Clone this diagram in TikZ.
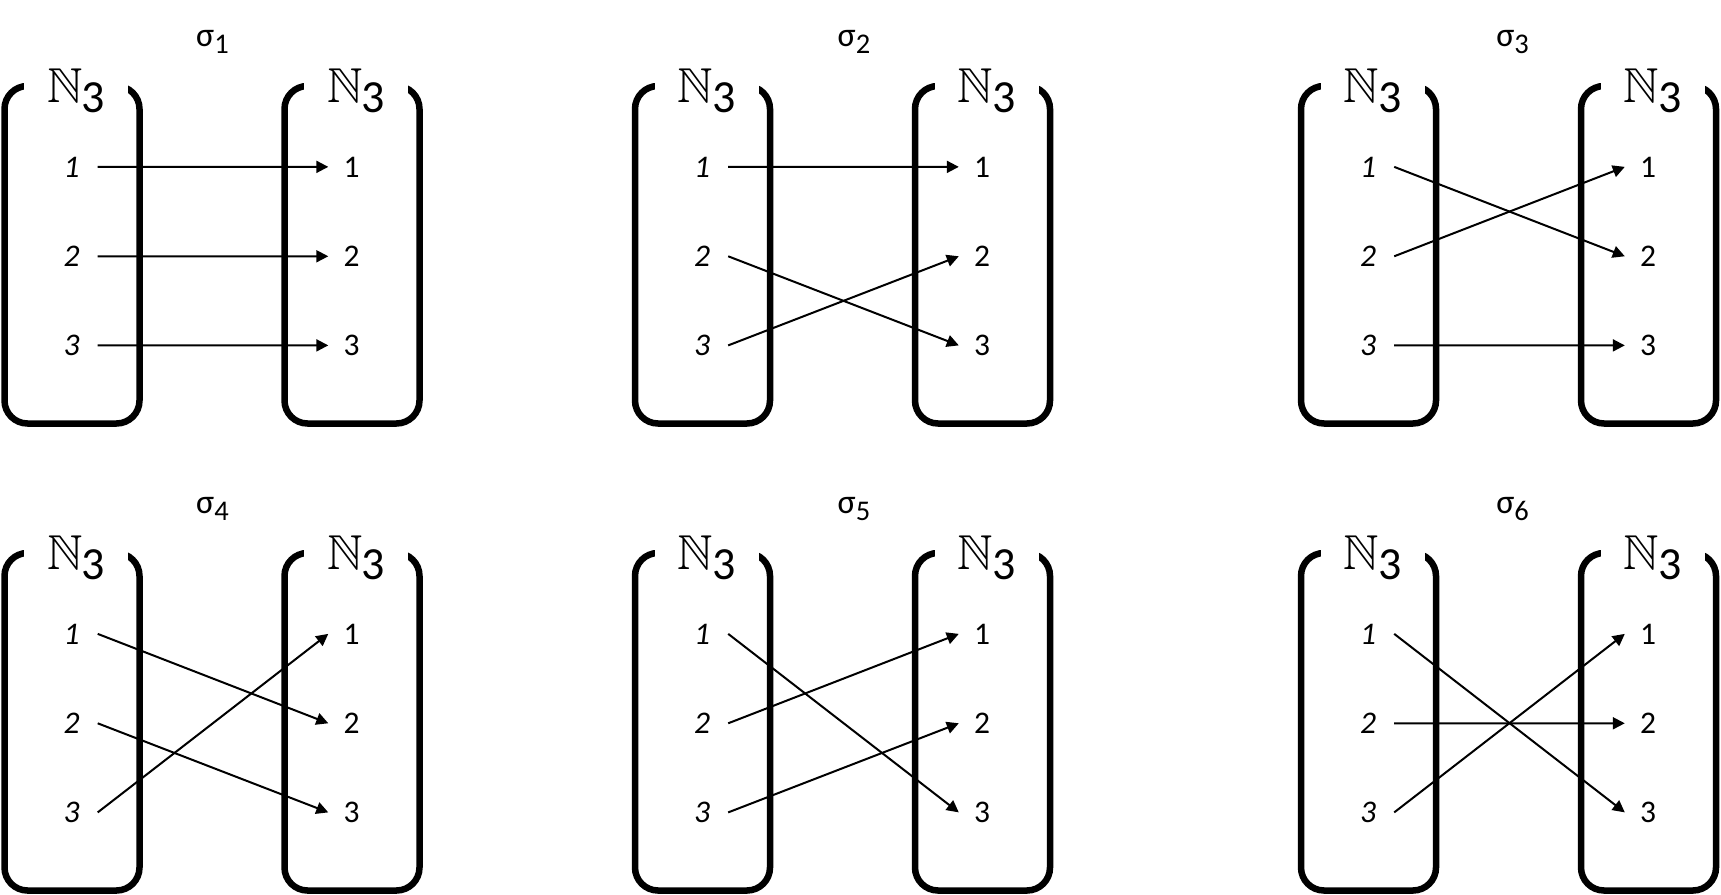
\documentclass[tikz,border=0pt]{standalone}
\usepackage{fontspec}
\setmainfont{Carlito}
\usepackage{amssymb}
\usetikzlibrary{arrows.meta}
\tikzset{
  boxline/.style={line width=6.5pt, rounded corners=23pt},
  setlabel/.style={fill=white, inner sep=0pt, minimum width=104pt, anchor=base},
  lnum/.style={anchor=base, inner sep=0pt, minimum width=52pt, font=\fontsize{31.5}{31.5}\selectfont\itshape},
  rnum/.style={anchor=base, inner sep=0pt, minimum width=46pt, font=\fontsize{31.5}{31.5}\selectfont},
  siglabel/.style={anchor=base, inner sep=0pt},
  maparrow/.style={line width=2pt, -{Triangle[length=12pt,width=12pt]}},
}
\newcommand\NthreeLabel{{\fontsize{49}{49}\selectfont$\mathbb{N}$}\kern-1pt\raisebox{-10pt}{\fontsize{46}{46}\selectfont 3}}
\newcommand\SigLabel[1]{{\fontsize{34}{34}\selectfont σ}\raisebox{-6.7pt}{\fontsize{28.5}{28.5}\selectfont #1}}
% #1 x0, #2 row shift, #3 sigma rel x, #4 index, #5-#7 images of 1,2,3
\newcommand\permpanel[7]{%
 \begin{scope}[shift={(#1,#2)}]
  \draw[boxline] (0,86) rectangle (135,423.5);
  \draw[boxline] (280,86) rectangle (415,423.5);
  \node[setlabel] (s#4dom) at (71.5,102) {\NthreeLabel};
  \node[setlabel] (s#4cod) at (351.5,102) {\NthreeLabel};
  \node[siglabel] (s#4name) at (#3,46.7) {\SigLabel{#4}};
  \node[lnum] (s#4l1) at (67,177) {1};
  \node[lnum] (s#4l2) at (67,266.5) {2};
  \node[lnum] (s#4l3) at (67,355.5) {3};
  \node[rnum] (s#4r1) at (347,177) {1};
  \node[rnum] (s#4r2) at (347,266.5) {2};
  \node[rnum] (s#4r3) at (347,355.5) {3};
  \draw[maparrow] (s#4l1.east) -- (s#4r#5.west);
  \draw[maparrow] (s#4l2.east) -- (s#4r#6.west);
  \draw[maparrow] (s#4l3.east) -- (s#4r#7.west);
 \end{scope}}
\begin{document}
\begin{tikzpicture}[x=1pt, y=-1pt]
  \useasboundingbox (0,0) rectangle (1721,894);
  \permpanel{4.5}{0}{208}{1}{1}{2}{3}
  \permpanel{635}{0}{219}{2}{1}{3}{2}
  \permpanel{1301}{0}{211.5}{3}{2}{1}{3}
  \permpanel{4.5}{467}{208}{4}{2}{3}{1}
  \permpanel{635}{467}{219}{5}{3}{1}{2}
  \permpanel{1301}{467}{211.5}{6}{3}{2}{1}
\end{tikzpicture}
\end{document}
